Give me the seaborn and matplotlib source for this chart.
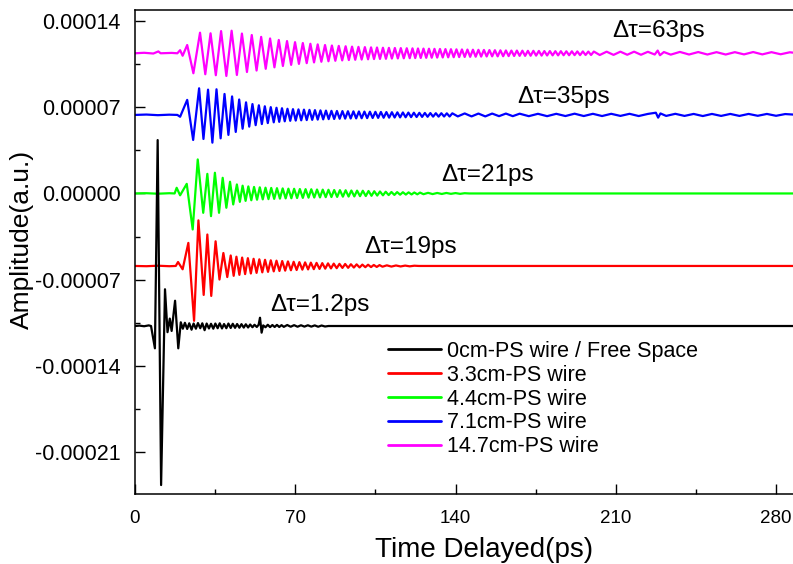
import numpy as np
import pandas as pd
import matplotlib
matplotlib.use("Agg")
import matplotlib.pyplot as plt
from matplotlib.ticker import MultipleLocator, FuncFormatter
import seaborn as sns

# ---- traces (time in ps, amplitude in 1e-5 a.u. about each trace's own baseline) ----
series_names = ["0cm-PS wire / Free Space", "3.3cm-PS wire", "4.4cm-PS wire",
                "7.1cm-PS wire", "14.7cm-PS wire"]
series_colors = ["#000000", "#ff0000", "#00ff00", "#0000ff", "#ff00ff"]
baseline_offsets = [-10.75, -5.88, 0.0, 6.37, 11.37]

delay_labels = ["\u0394\u03c4=1.2ps", "\u0394\u03c4=19ps", "\u0394\u03c4=21ps",
                "\u0394\u03c4=35ps", "\u0394\u03c4=63ps"]
delay_label_x = [59.0, 100.0, 133.7, 166.9, 208.4]
delay_label_y = [-9.04, -4.34, 1.50, 7.83, 13.18]

t_free = [0, 2, 4, 6, 7.0, 8.7, 9.9, 11.4, 13.1, 14.2,
          15.2, 16.0, 17.5, 18.9, 20.0, 20.9, 21.8, 22.8, 23.7, 24.7,
          25.6, 26.6, 27.5, 28.5, 29.4, 30.4, 31.3, 32.3, 33.2, 34.2,
          35.1, 36.1, 37.0, 38.0, 38.9, 39.9, 40.8, 41.8, 42.7, 43.7,
          44.6, 45.6, 46.5, 47.5, 48.4, 49.4, 50.3, 51.3, 52.2, 53.2,
          54.0, 54.6, 55.3, 56.0, 57.0, 58.0, 59.0, 60.0, 61.0, 62.0,
          63.0, 64.0, 65.0, 66.5, 68.0, 69.5, 71.0, 72.5, 74.0, 75.5,
          77.0, 78.5, 80.0, 81.5, 83.0, 84.5, 290.0]
a_free = [0, 0.03, -0.02, 0.05, 0, -1.81, 15.08, -12.9, 2.98, -0.5,
          0.6, -0.4, 2.05, -1.81, 0.3, -0.22, 0.26, -0.24, 0.22, -0.30,
          0.20, -0.22, 0.24, -0.18, 0.22, -0.34, 0.20, -0.20, 0.18, -0.22,
          0.20, -0.18, 0.22, -0.20, 0.16, -0.18, 0.20, -0.16, 0.18, -0.15,
          0.16, -0.14, 0.15, -0.13, 0.14, -0.12, 0.12, -0.10, 0.10, -0.08,
          0.10, 0.67, -0.54, 0.05, -0.10, 0.10, -0.09, 0.08, -0.08, 0.09,
          -0.08, 0.07, -0.07, 0.08, -0.06, 0.07, -0.06, 0.06, -0.05, 0.06,
          -0.05, 0.05, -0.06, 0.04, -0.04, 0, 0]

t_33 = [0, 5, 10, 15, 17.8, 18.8, 20.8, 23.3, 25.8, 27.7,
        30.0, 31.6, 33.3, 35.2, 36.9, 38.6, 40.3, 41.8, 43.1, 44.3,
        45.6, 46.8, 48.1, 49.3, 50.6, 51.8, 53.1, 54.3, 55.6, 56.8,
        58.1, 59.3, 60.6, 61.8, 63.1, 64.3, 65.6, 66.8, 68.1, 69.3,
        70.6, 71.8, 73.1, 74.3, 75.6, 76.8, 78.1, 79.3, 80.6, 81.8,
        83.1, 84.3, 85.6, 86.8, 88.1, 89.3, 90.6, 91.8, 93.1, 94.3,
        95.6, 96.8, 98.1, 99.3, 100.6, 101.8, 103.1, 104.3, 105.6, 106.8,
        108.1, 110.0, 112.0, 114.0, 116.0, 118.0, 120.0, 122.0, 124.0, 290.0]
a_33 = [0, -0.02, 0.02, -0.02, 0, 0.32, -0.27, 1.87, -4.45, 3.70,
        -2.35, 2.55, -2.43, 2.00, -1.10, 1.05, -0.90, 0.85, -0.80, 0.75,
        -0.72, 0.68, -0.66, 0.63, -0.61, 0.58, -0.56, 0.54, -0.52, 0.50,
        -0.48, 0.46, -0.44, 0.43, -0.41, 0.40, -0.38, 0.37, -0.35, 0.34,
        -0.33, 0.31, -0.30, 0.29, -0.28, 0.27, -0.26, 0.25, -0.24, 0.23,
        -0.22, 0.21, -0.20, 0.19, -0.18, 0.17, -0.16, 0.16, -0.15, 0.14,
        -0.13, 0.13, -0.12, 0.11, -0.10, 0.10, -0.09, 0.08, -0.08, 0.07,
        -0.06, 0.05, -0.05, 0.04, -0.04, 0.03, -0.03, 0.02, 0, 0]

t_44 = [0, 5, 10, 15, 17.3, 18.2, 19.7, 22.6, 25.2, 27.4,
        29.8, 31.6, 33.2, 34.9, 36.7, 38.3, 39.9, 41.5, 42.9, 44.5,
        45.8, 47.0, 48.3, 49.5, 50.8, 52.0, 53.3, 54.5, 55.8, 57.0,
        58.3, 59.5, 60.8, 62.0, 63.3, 64.5, 65.8, 67.0, 68.3, 69.5,
        70.8, 72.0, 73.3, 74.5, 75.8, 77.0, 78.3, 79.5, 80.8, 82.0,
        83.3, 84.5, 85.8, 87.0, 88.3, 89.5, 90.8, 92.0, 93.3, 94.5,
        95.8, 97.0, 98.3, 99.5, 100.8, 102.0, 103.3, 104.5, 105.8, 107.0,
        108.3, 109.5, 110.8, 112.0, 113.3, 114.5, 115.8, 117.0, 118.3, 119.5,
        120.8, 122.0, 123.3, 124.5, 126.0, 128.0, 130.0, 132.0, 134.0, 136.0,
        138.0, 140.0, 142.0, 144.0, 146.0, 290.0]
a_44 = [0, 0.02, -0.02, 0.02, 0, 0.46, -0.15, 0.78, -2.92, 2.76,
        -1.57, 1.59, -1.84, 1.68, -1.57, 1.27, -1.16, 0.95, -0.89, 0.73,
        -0.68, 0.63, -0.60, 0.57, -0.55, 0.53, -0.51, 0.50, -0.48, 0.47,
        -0.46, 0.45, -0.44, 0.43, -0.42, 0.41, -0.40, 0.39, -0.39, 0.38,
        -0.37, 0.36, -0.36, 0.35, -0.34, 0.34, -0.33, 0.32, -0.32, 0.31,
        -0.30, 0.30, -0.29, 0.28, -0.28, 0.27, -0.26, 0.26, -0.25, 0.24,
        -0.24, 0.23, -0.22, 0.22, -0.21, 0.20, -0.19, 0.18, -0.17, 0.16,
        -0.15, 0.14, -0.13, 0.12, -0.12, 0.11, -0.10, 0.10, -0.09, 0.09,
        -0.08, 0.08, -0.07, 0.07, -0.06, 0.05, -0.05, 0.04, -0.04, 0.04,
        -0.03, 0.03, -0.03, 0.02, 0, 0]

t_71 = [0, 5, 10, 15, 18.5, 19.7, 22.8, 25.4, 28.0, 29.9,
        31.9, 33.8, 35.6, 37.4, 39.1, 40.8, 42.4, 44.0, 45.5, 47.0,
        48.5, 49.9, 51.3, 52.7, 54.1, 55.4, 56.7, 58.0, 59.3, 60.6,
        61.8, 63.0, 64.2, 65.4, 66.6, 67.8, 69.0, 70.2, 71.4, 72.6,
        73.8, 75.0, 76.2, 77.4, 78.6, 79.8, 81.0, 82.2, 83.4, 84.6,
        85.8, 87.0, 88.2, 89.4, 90.6, 91.8, 93.0, 94.2, 95.4, 96.6,
        97.8, 99.0, 100.2, 101.4, 102.6, 103.8, 105.0, 106.2, 107.4, 108.6,
        109.8, 111.0, 112.2, 113.4, 114.6, 115.8, 117.0, 118.2, 119.4, 120.6,
        121.8, 123.0, 124.2, 125.4, 126.6, 127.8, 129.0, 130.2, 131.4, 132.6,
        133.8, 135.0, 136.2, 137.4, 138.6, 141.0, 144.0, 147.0, 150.0, 153.0,
        156.0, 159.0, 162.0, 165.0, 168.0, 172.0, 176.0, 180.0, 184.0, 188.0,
        192.0, 196.0, 200.0, 204.0, 208.0, 212.0, 216.0, 220.0, 224.0, 227.5,
        228.5, 229.5, 232.0, 236.0, 240.0, 244.0, 248.0, 252.0, 256.0, 260.0,
        264.0, 268.0, 272.0, 276.0, 280.0, 284.0, 290.0]
a_71 = [0, 0.03, -0.02, 0.02, 0, -0.15, 1.22, -2.03, 2.16, -1.95,
        2.05, -2.25, 2.08, -1.90, 1.70, -1.62, 1.50, -1.38, 1.25, -1.12,
        1.02, -0.95, 0.88, -0.83, 0.78, -0.74, 0.70, -0.66, 0.63, -0.60,
        0.58, -0.56, 0.54, -0.52, 0.50, -0.48, 0.47, -0.46, 0.45, -0.44,
        0.43, -0.42, 0.41, -0.40, 0.39, -0.38, 0.37, -0.36, 0.35, -0.34,
        0.33, -0.33, 0.32, -0.31, 0.31, -0.30, 0.30, -0.29, 0.29, -0.28,
        0.28, -0.27, 0.27, -0.26, 0.26, -0.25, 0.25, -0.24, 0.24, -0.23,
        0.23, -0.22, 0.22, -0.21, 0.21, -0.20, 0.20, -0.19, 0.19, -0.18,
        0.18, -0.17, 0.17, -0.16, 0.16, -0.15, 0.15, -0.14, 0.14, -0.14,
        0.14, -0.13, 0.13, -0.13, 0.13, -0.12, 0.12, -0.12, 0.11, -0.12,
        0.11, -0.10, 0.11, -0.10, 0.10, -0.10, 0.09, -0.10, 0.09, -0.09,
        0.10, -0.09, 0.09, -0.09, 0.09, -0.08, 0.09, -0.09, 0.08, 0.18,
        -0.22, 0.12, -0.08, 0.09, -0.08, 0.08, -0.09, 0.08, -0.08, 0.08,
        -0.08, 0.08, -0.07, 0.08, -0.07, 0.07, 0]

t_147 = [0, 4, 8, 10.2, 11.2, 16, 18.5, 19.7, 20.8, 22.8,
         25.5, 28.4, 30.7, 33.0, 35.3, 37.6, 39.9, 42.2, 44.5, 46.7,
         48.9, 51.0, 53.1, 55.1, 57.1, 59.0, 60.9, 62.8, 64.6, 66.4,
         68.2, 69.9, 71.6, 73.3, 75.0, 76.6, 78.2, 79.8, 81.4, 83.0,
         84.5, 86.0, 87.5, 89.0, 90.5, 92.0, 93.4, 94.8, 96.2, 97.6,
         99.0, 100.4, 101.8, 103.1, 104.4, 105.7, 107.0, 108.3, 109.6, 110.9,
         112.2, 113.5, 114.8, 116.1, 117.4, 118.7, 120.0, 121.2, 122.4, 123.6,
         124.8, 126.0, 127.2, 128.4, 129.6, 130.8, 132.0, 133.2, 134.4, 135.6,
         136.8, 138.0, 139.2, 140.4, 141.6, 142.8, 144.0, 145.2, 146.4, 147.6,
         148.8, 150.0, 151.2, 152.4, 153.6, 154.8, 156.0, 157.2, 158.4, 159.6,
         160.8, 162.0, 163.2, 164.4, 165.6, 166.8, 168.0, 169.2, 170.4, 171.6,
         172.8, 174.0, 175.2, 176.4, 177.6, 178.8, 180.0, 181.2, 182.4, 183.6,
         184.8, 186.0, 187.2, 188.4, 189.6, 190.8, 192.0, 193.2, 194.4, 195.6,
         196.8, 198.0, 199.2, 200.4, 203.0, 206.0, 209.0, 212.0, 215.0, 218.0,
         221.0, 224.0, 227.0, 228.3, 229.3, 231.0, 234.0, 238.0, 242.0, 246.0,
         250.0, 254.0, 258.0, 262.0, 266.0, 270.0, 274.0, 278.0, 282.0, 286.0, 290.0]
a_147 = [0, 0.04, -0.02, 0.15, 0, 0.03, 0, 0.25, -0.2, 0.67,
         -1.62, 1.67, -1.70, 1.62, -1.78, 1.80, -1.84, 1.83, -1.76, 1.60,
         -1.52, 1.48, -1.40, 1.33, -1.26, 1.20, -1.14, 1.08, -1.03, 0.99,
         -0.94, 0.90, -0.86, 0.83, -0.80, 0.77, -0.74, 0.72, -0.69, 0.67,
         -0.65, 0.63, -0.61, 0.60, -0.58, 0.57, -0.55, 0.54, -0.53, 0.52,
         -0.51, 0.50, -0.49, 0.48, -0.47, 0.47, -0.46, 0.45, -0.45, 0.44,
         -0.43, 0.43, -0.42, 0.42, -0.41, 0.41, -0.40, 0.40, -0.39, 0.39,
         -0.38, 0.38, -0.37, 0.37, -0.36, 0.36, -0.35, 0.35, -0.34, 0.34,
         -0.33, 0.33, -0.32, 0.32, -0.31, 0.31, -0.30, 0.30, -0.29, 0.29,
         -0.28, 0.28, -0.27, 0.27, -0.26, 0.26, -0.25, 0.25, -0.25, 0.24,
         -0.24, 0.23, -0.23, 0.22, -0.22, 0.22, -0.21, 0.21, -0.21, 0.20,
         -0.20, 0.20, -0.19, 0.19, -0.19, 0.18, -0.18, 0.18, -0.17, 0.17,
         -0.17, 0.17, -0.16, 0.16, -0.16, 0.16, -0.15, 0.15, -0.15, 0.15,
         -0.14, 0.14, -0.14, 0.14, -0.14, 0.13, -0.13, 0.13, -0.12, 0.13,
         -0.12, 0.12, -0.10, 0.22, -0.16, 0.10, -0.11, 0.11, -0.10, 0.10,
         -0.10, 0.09, -0.10, 0.09, -0.09, 0.10, -0.09, 0.09, -0.08, 0.08, 0]

traces = [(t_free, a_free), (t_33, a_33), (t_44, a_44), (t_71, a_71), (t_147, a_147)]

# ---- long table for seaborn ----
frames = []
for name, off, (t, a) in zip(series_names, baseline_offsets, traces):
    frames.append(pd.DataFrame({
        "time": np.asarray(t, float),
        "amp": (np.asarray(a, float) + off) * 1e-5,
        "trace": name,
    }))
df = pd.concat(frames, ignore_index=True)

sns.set_style("ticks")
plt.rcParams["font.family"] = ["Liberation Sans", "DejaVu Sans"]
plt.rcParams["axes.linewidth"] = 1.1
for key in ("text.color", "axes.labelcolor", "xtick.color", "ytick.color",
            "axes.edgecolor"):
    plt.rcParams[key] = "black"

W, H = 793, 564
fig = plt.figure(figsize=(W / 100, H / 100), dpi=100)
ax = fig.add_axes([135 / W, 1 - 494.3 / H, (W - 135) / W, (494.3 - 10) / H])

sns.lineplot(data=df, x="time", y="amp", hue="trace", hue_order=series_names,
             palette=dict(zip(series_names, series_colors)),
             estimator=None, sort=False, linewidth=1.6, ax=ax)

# the free-space pulse sits above the others
ax.lines[0].set_zorder(3)

ax.set_xlim(0, 287.4)
ax.set_ylim(-24.40e-5, 14.88e-5)

ax.xaxis.set_major_locator(MultipleLocator(70))
ax.xaxis.set_minor_locator(MultipleLocator(35))
ax.yaxis.set_major_locator(MultipleLocator(7e-5))
ax.yaxis.set_minor_locator(MultipleLocator(3.5e-5))
ax.yaxis.set_major_formatter(FuncFormatter(
    lambda v, p: "0.00000" if abs(v) < 1e-12 else f"{v:.5f}"))

ax.tick_params(axis="both", which="both", direction="in", top=False, right=False,
               width=1.0, colors="black")
ax.tick_params(axis="both", which="major", length=7)
ax.tick_params(axis="both", which="minor", length=3.5)
ax.tick_params(axis="x", which="major", pad=11, labelsize=13.5)
ax.tick_params(axis="y", which="major", pad=10.5, labelsize=15.5)
ax.spines["right"].set_visible(False)

ax.set_xlabel("Time Delayed(ps)", fontsize=20)
ax.set_ylabel("Amplitude(a.u.)", fontsize=19)
ax.xaxis.label.set_va("center")
ax.yaxis.label.set_va("center")
ax.xaxis.set_label_coords((484.5 - 135) / 658, (494.3 - 550) / 484.3)
ax.yaxis.set_label_coords((22 - 135) / 658, (494.3 - 239) / 484.3)

for txt, x, y in zip(delay_labels, delay_label_x, delay_label_y):
    ax.text(x, y * 1e-5, txt, fontsize=17.5, ha="left", va="center", color="black")

handles, labels = ax.get_legend_handles_labels()
for h in handles:
    h.set_linewidth(2.0)
ax.legend(handles, labels, loc="upper left", bbox_to_anchor=(388 / W, 1 - 341 / H),
          bbox_transform=fig.transFigure, frameon=False, fontsize=15.5,
          handlelength=2.45, handletextpad=0.28, labelspacing=0.13,
          borderpad=0, borderaxespad=0)

fig.savefig("out.png", dpi=100)
